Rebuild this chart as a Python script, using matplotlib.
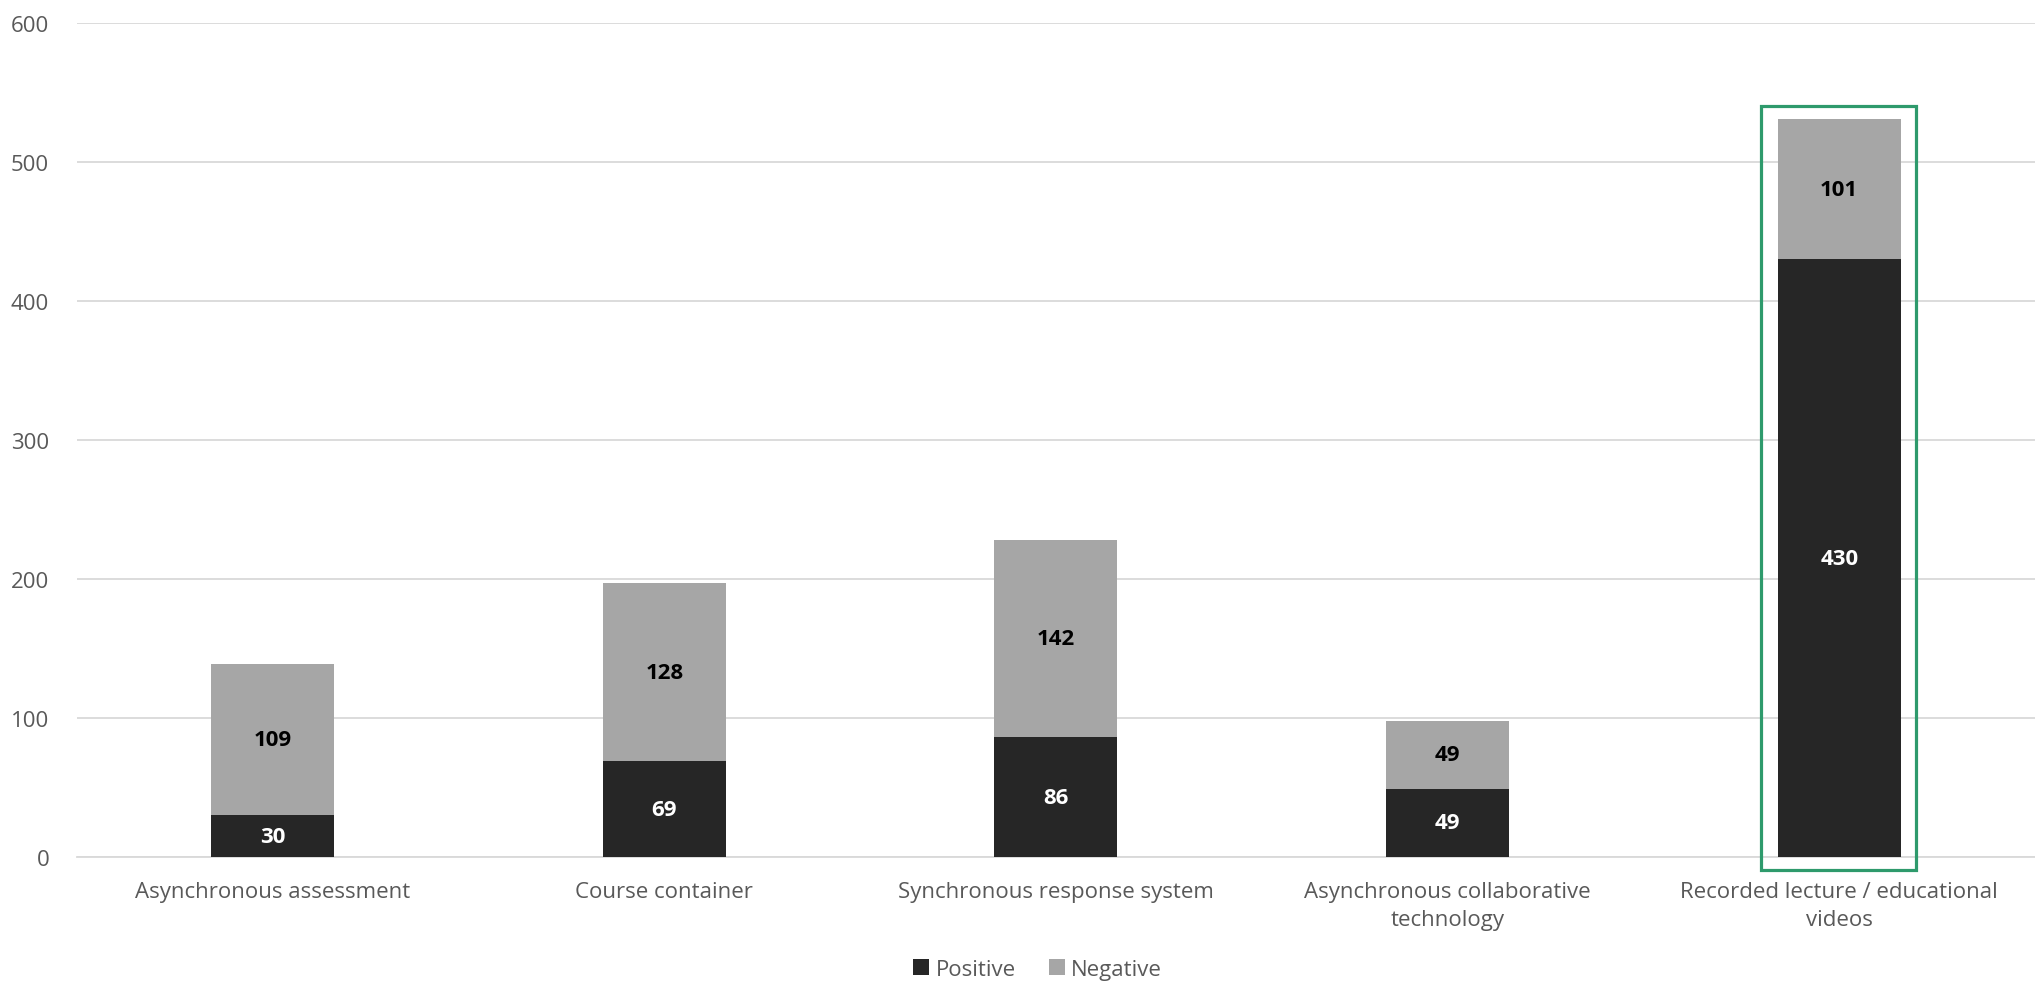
from matplotlib import pyplot as plt
from matplotlib.patches import Rectangle
import numpy as np

# Counts of positive / negative comments per technology category
categories = ['Asynchronous assessment', 'Course container', 'Synchronous response system',
              'Asynchronous collaborative\ntechnology', 'Recorded lecture / educational\nvideos']
positive = [30, 69, 86, 49, 430]
negative = [109, 128, 142, 49, 101]
highlight = 4  # category boxed in green

plt.rcParams['font.family'] = ['Open Sans', 'DejaVu Sans']

fig = plt.figure(figsize=(20.35, 9.87), dpi=100)
ax = fig.add_axes([0.0378, 0.1307, 0.9622, 0.845])

x = np.arange(len(categories))
width = 0.314

b1 = ax.bar(x, positive, width, color='#262626', label='Positive', zorder=3)
b2 = ax.bar(x, negative, width, bottom=positive, color='#A6A6A6', label='Negative', zorder=3)

for rect, v in zip(b1, positive):
    ax.text(rect.get_x() + rect.get_width() / 2, rect.get_y() + v / 2, f'{v}',
            ha='center', va='center', color='white', fontsize=16, fontweight='bold', zorder=4)
for rect, v in zip(b2, negative):
    ax.text(rect.get_x() + rect.get_width() / 2, rect.get_y() + v / 2, f'{v}',
            ha='center', va='center', color='black', fontsize=16, fontweight='bold', zorder=4)

# green frame around the highlighted column
total = positive[highlight] + negative[highlight]
ax.add_patch(Rectangle((highlight - 0.199, -9.4), 0.395, total + 9.4 + 9.5,
                       fill=False, edgecolor='#2E9A6C', linewidth=2.3, clip_on=False, zorder=5))

ax.set_xlim(-0.5, len(categories) - 0.5)
ax.set_ylim(0, 600)
ax.set_yticks(range(0, 601, 100))
ax.yaxis.grid(True, color='#D9D9D9', linewidth=1.3, zorder=0)
ax.set_axisbelow(True)
for s in ['top', 'right', 'left']:
    ax.spines[s].set_visible(False)
ax.spines['bottom'].set_color('#D9D9D9')
ax.spines['bottom'].set_linewidth(1.3)

ax.set_xticks(x)
ax.set_xticklabels(categories, linespacing=1.45)
ax.tick_params(axis='both', length=0, labelsize=16, labelcolor='#595959')
ax.tick_params(axis='y', pad=20)
ax.tick_params(axis='x', pad=17)

fig.legend(handles=[b1, b2], loc='center', bbox_to_anchor=(0.51, 0.017), ncol=2,
           frameon=False, fontsize=16, labelcolor='#595959', handlelength=0.7,
           handleheight=0.7, handletextpad=0.3, columnspacing=1.5)

plt.savefig('out.png', dpi=100)
